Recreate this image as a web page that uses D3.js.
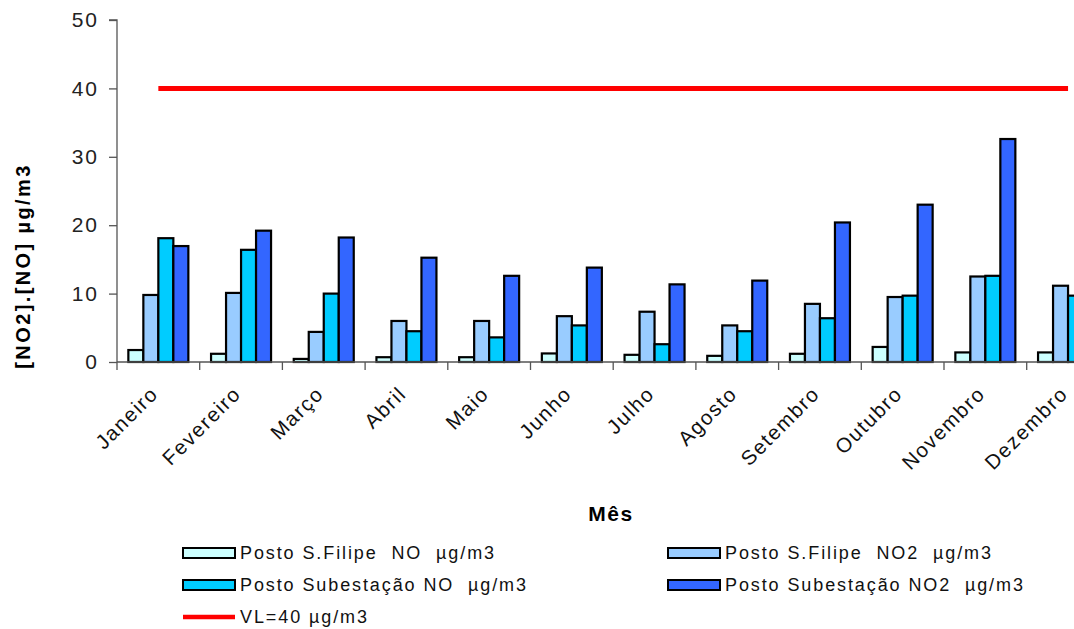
<!DOCTYPE html>
<html>
<head>
<meta charset="utf-8">
<script src="https://cdn.jsdelivr.net/npm/d3@7"></script>
<style>
  html, body { margin: 0; padding: 0; background: #fff; overflow: hidden; }
  svg { display: block; font-family: "Liberation Sans", Arial, sans-serif; }
  text { white-space: pre; }
</style>
</head>
<body>
<svg id="chart" width="1074" height="629"></svg>
<script>
// Monthly NO / NO2 concentrations at the two monitoring stations
const months = ["Janeiro", "Fevereiro", "Março", "Abril", "Maio", "Junho",
                "Julho", "Agosto", "Setembro", "Outubro", "Novembro", "Dezembro"];
const sFilipeNO       = [1.75, 1.2, 0.45, 0.7, 0.7, 1.25, 1.05, 0.9, 1.2, 2.2, 1.4, 1.4];
const sFilipeNO2      = [9.8, 10.1, 4.4, 6.0, 6.0, 6.7, 7.35, 5.35, 8.5, 9.5, 12.5, 11.15];
const subestacaoNO    = [18.1, 16.4, 10.0, 4.5, 3.6, 5.35, 2.6, 4.5, 6.4, 9.7, 12.6, 9.7];
const subestacaoNO2   = [16.95, 19.2, 18.2, 15.25, 12.6, 13.8, 11.35, 11.9, 20.4, 23.0, 32.6, 24.0];
const limitValue = 40;
const yTicks = [0, 10, 20, 30, 40, 50];

const seriesNames = [
  "Posto S.Filipe  NO  µg/m3",
  "Posto S.Filipe  NO2  µg/m3",
  "Posto Subestação NO  µg/m3",
  "Posto Subestação NO2  µg/m3"
];
const seriesValues = [sFilipeNO, sFilipeNO2, subestacaoNO, subestacaoNO2];
const seriesColors = ["#CCFFFF", "#99CCFF", "#00CCFF", "#3366FF"];
const limitLabel = "VL=40 µg/m3";

const svg = d3.select("#chart");

// plot geometry (the category axis runs past the right edge of the page)
const plotLeft = 117, plotTop = 20, plotBottom = 362;
const step = 82.7;
const plotRight = plotLeft + step * months.length;

const x = d3.scaleBand().domain(months).range([plotLeft, plotRight]).padding(0);
const barW = 15;
const xInner = d3.scaleBand().domain(d3.range(seriesNames.length))
  .range([(step - barW * 4) / 2, (step + barW * 4) / 2]).padding(0);
const y = d3.scaleLinear().domain([0, 50]).range([plotBottom, plotTop]);

// bars
const groups = svg.append("g").selectAll("g")
  .data(months).join("g")
  .attr("transform", d => `translate(${x(d)},0)`);

groups.selectAll("rect")
  .data((m, i) => seriesValues.map((vals, s) => ({ s, v: vals[i] })))
  .join("rect")
  .attr("x", d => xInner(d.s))
  .attr("width", xInner.bandwidth())
  .attr("y", d => y(d.v))
  .attr("height", d => y(0) - y(d.v))
  .attr("fill", d => seriesColors[d.s])
  .attr("stroke", "#000")
  .attr("stroke-width", 2.2);

// limit value line
svg.append("line")
  .attr("x1", x(months[0]) + step / 2)
  .attr("x2", x(months[months.length - 1]) + step / 2)
  .attr("y1", y(limitValue)).attr("y2", y(limitValue))
  .attr("stroke", "#FF0000").attr("stroke-width", 5);

// y axis
const yAxis = d3.axisLeft(y).tickValues(yTicks).tickSize(8).tickPadding(10);
const gy = svg.append("g").attr("transform", `translate(${plotLeft},0)`).call(yAxis);
gy.select(".domain").attr("stroke", "#555").attr("stroke-width", 1.3)
  .attr("d", `M-8,${plotTop}H0V${plotBottom + 8}`);
gy.selectAll(".tick line").attr("stroke", "#555").attr("stroke-width", 1.3);
gy.selectAll(".tick text").attr("font-size", 21).attr("fill", "#222")
  .attr("letter-spacing", 2)
  .attr("font-family", "Liberation Sans, Arial, sans-serif");

// x axis: ticks between categories
const gx = svg.append("g");
gx.append("line").attr("x1", plotLeft).attr("x2", plotRight)
  .attr("y1", plotBottom).attr("y2", plotBottom)
  .attr("stroke", "#555").attr("stroke-width", 1.3);
gx.selectAll("line.sep").data(months).join("line").attr("class", "sep")
  .attr("x1", d => x(d) + step).attr("x2", d => x(d) + step)
  .attr("y1", plotBottom).attr("y2", plotBottom + 8)
  .attr("stroke", "#555").attr("stroke-width", 1.3);
gx.selectAll("text").data(months).join("text")
  .attr("transform", d => `translate(${x(d) + step / 2 - 4},${plotBottom + 28}) rotate(-45)`)
  .attr("text-anchor", "end")
  .attr("dy", "0.35em")
  .attr("font-size", 20.5)
  .attr("letter-spacing", 1.6)
  .attr("fill", "#111")
  .text(d => d);

// axis titles
svg.append("text")
  .attr("transform", `translate(30,266) rotate(-90)`)
  .attr("text-anchor", "middle")
  .attr("font-size", 20).attr("font-weight", "bold").attr("fill", "#000")
  .attr("letter-spacing", 2.4)
  .text("[NO2].[NO] µg/m3");

svg.append("text")
  .attr("x", 611).attr("y", 521)
  .attr("text-anchor", "middle")
  .attr("font-size", 21).attr("font-weight", "bold").attr("fill", "#000")
  .attr("letter-spacing", 1.5)
  .text("Mês");

// legend
const legendPos = [
  { x: 183, y: 553 }, { x: 668, y: 553 },
  { x: 183, y: 585 }, { x: 668, y: 585 }
];
const legend = svg.append("g");
seriesNames.forEach((name, i) => {
  const p = legendPos[i];
  legend.append("rect")
    .attr("x", p.x).attr("y", p.y - 5).attr("width", 52).attr("height", 10)
    .attr("fill", seriesColors[i]).attr("stroke", "#000").attr("stroke-width", 2);
  legend.append("text")
    .attr("x", p.x + 57).attr("y", p.y).attr("dy", "0.35em")
    .attr("font-size", 18).attr("letter-spacing", 1.9).attr("fill", "#111")
    .text(name);
});
legend.append("line")
  .attr("x1", 183).attr("x2", 235).attr("y1", 617).attr("y2", 617)
  .attr("stroke", "#FF0000").attr("stroke-width", 4.5);
legend.append("text")
  .attr("x", 240).attr("y", 617).attr("dy", "0.35em")
  .attr("font-size", 18).attr("letter-spacing", 1.9).attr("fill", "#111")
  .text(limitLabel);
</script>
</body>
</html>
